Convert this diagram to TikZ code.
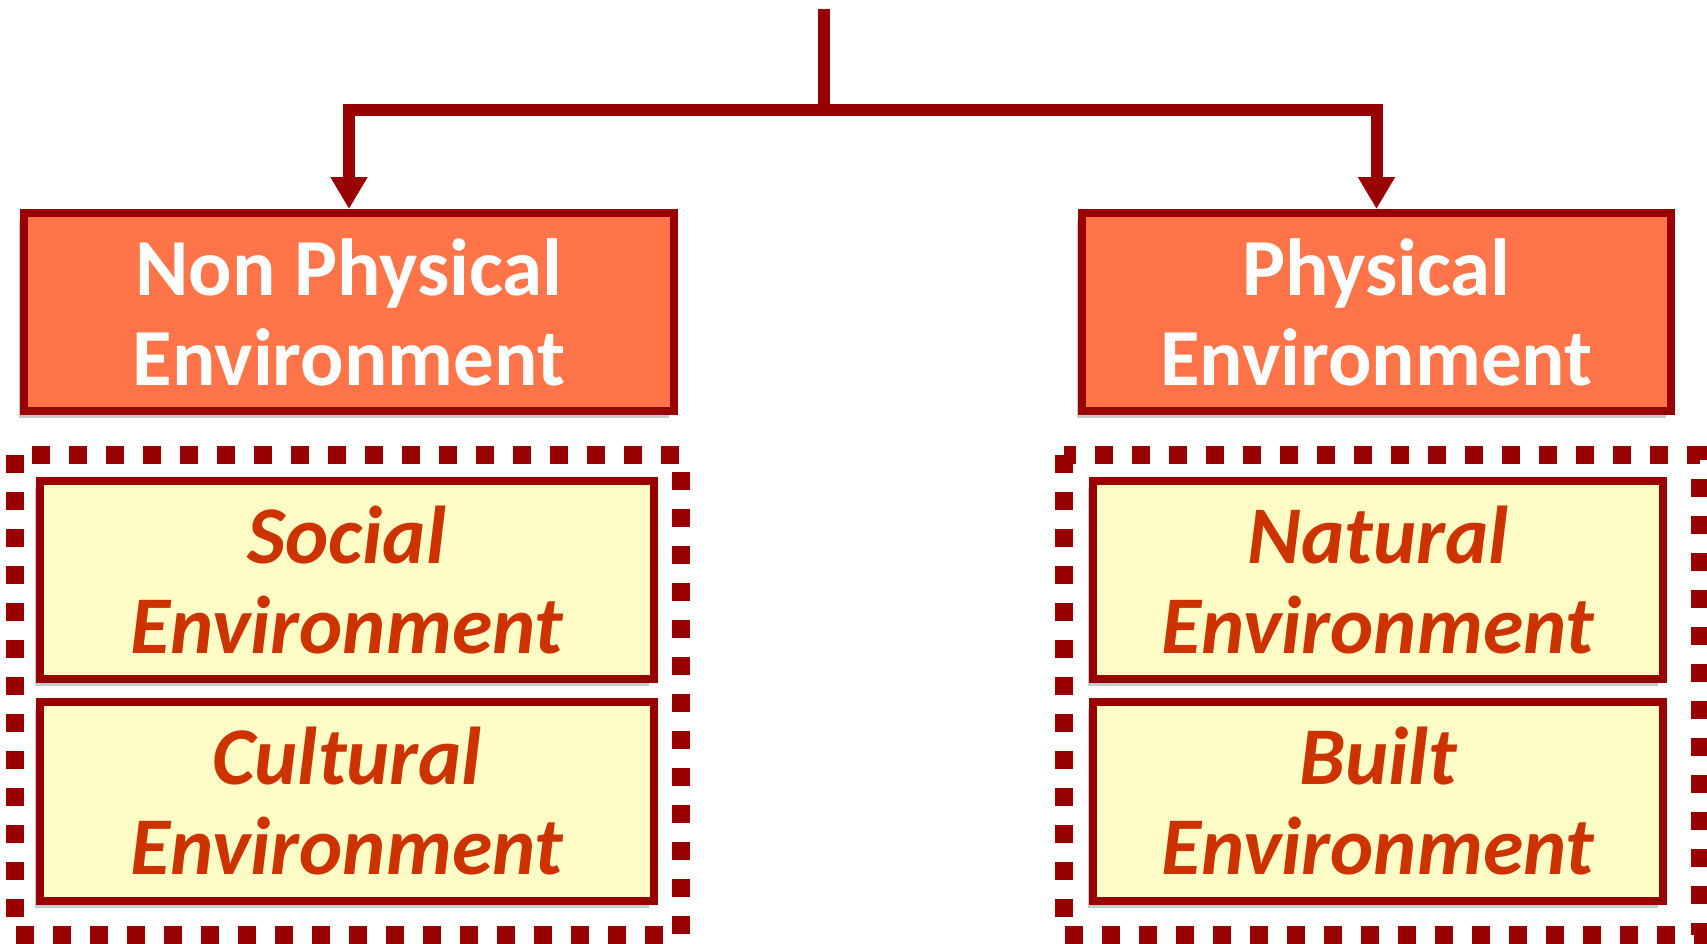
\documentclass[tikz,border=0pt]{standalone}
\usepackage{fontspec}
\setmainfont{Carlito}
\usetikzlibrary{arrows.meta,shadows}
\definecolor{darkred}{HTML}{990000}
\definecolor{boxorange}{HTML}{FF7549}
\definecolor{boxyellow}{HTML}{FFFCC6}
\definecolor{textred}{HTML}{CC3300}

\begin{document}
\begin{tikzpicture}[x=1pt,y=-1pt,>={Triangle[length=32pt,width=35pt]}]
\tikzstyle{every node}=[draw=darkred,line width=8pt,rectangle,inner sep=0pt,align=center,
  font=\fontsize{81}{90}\selectfont\bfseries,
  drop shadow={shadow xshift=-5pt,shadow yshift=-7pt,opacity=.35,fill=black!60}];
\tikzstyle{headbox}=[fill=boxorange,text=white,minimum height=198pt];
\tikzstyle{subbox}=[fill=boxyellow,text=textred,minimum height=198pt,
  font=\fontsize{82}{90}\selectfont\bfseries\itshape];
\tikzstyle{frame}=[draw=darkred,line width=18pt,dash pattern=on 18pt off 19pt];
\tikzstyle{link}=[draw=darkred,line width=12pt];
\useasboundingbox (0,0) rectangle (1707,943);
% dotted frames
    \draw[frame] (15,455) rectangle (681,935);
    \draw[frame] (1064,455) rectangle (1700,935);
% top level boxes
    \node[headbox,minimum width=650pt] (np) at (349,312) {Non Physical\\Environment};
    \node[headbox,minimum width=589pt] (ph) at (1376.5,312) {Physical\\Environment};
% sub boxes
    \node[subbox,minimum width=614pt] (soc) at (347,580) {Social\\Environment};
    \node[subbox,minimum width=614pt,minimum height=199pt] (cul) at (347,801.5) {Cultural\\Environment};
    \node[subbox,minimum width=570pt] (nat) at (1378,580) {Natural\\Environment};
    \node[subbox,minimum width=570pt,minimum height=199pt] (blt) at (1378,801.5) {Built\\Environment};
% connectors
    \coordinate (top) at (824,9);
    \coordinate (fork) at (824,110);
    \draw[link] (top) -- (fork);
    \draw[link,->] (fork) -| (np.north);
    \draw[link,->] (fork) -| (ph.north);
\end{tikzpicture}
\end{document}
